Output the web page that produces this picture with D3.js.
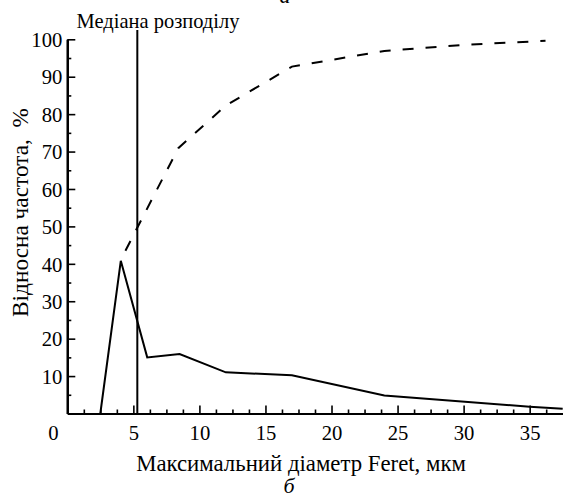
<!DOCTYPE html>
<html><head><meta charset="utf-8">
<script src="https://cdn.jsdelivr.net/npm/d3@7"></script>
</head><body style="margin:0">
<script>
// data
const freqX = [2.5, 4.05, 6.05, 8.5, 12, 17, 24, 35, 37.5];
const freqY = [0, 40.8, 15.0, 15.9, 11.0, 10.2, 4.8, 1.8, 1.3];
const cumX = [4.4, 8.4, 12, 17, 24, 30, 36.2];
const cumY = [43.5, 70.9, 82.3, 92.7, 96.9, 98.5, 99.6];
const median = 5.3;
const xTicks = [5, 10, 15, 20, 25, 30, 35];
const yTicks = [10, 20, 30, 40, 50, 60, 70, 80, 90, 100];
const xMinor = [1.25, 2.5, 3.75, 6.25, 7.5, 8.75, 11.25, 12.5, 13.75, 16.25, 17.5, 18.75, 21.25, 22.5, 23.75, 26.25, 27.5, 28.75, 31.25, 32.5, 33.75, 36.25];
const yMinor = [5, 15, 25, 35, 45, 55, 65, 75, 85, 95];

const FONT = "'Liberation Serif'";
const W = 563, H = 499;
const svg = d3.select("body").append("svg").attr("width", W).attr("height", H).style("display", "block");
const x = d3.scaleLinear().domain([0, 37.5]).range([67.3, 562.7]);
const y = d3.scaleLinear().domain([0, 100]).range([413.5, 39.3]);

function fit(sel, target) {
  const len = sel.node().getComputedTextLength();
  const fs = parseFloat(sel.style("font-size"));
  if (len > 0) sel.style("font-size", (fs * target / len) + "px");
  return sel;
}

const gx = svg.append("g").attr("transform", `translate(0,${y(0)})`)
  .call(d3.axisBottom(x).tickValues(xTicks).tickSizeInner(-8).tickSizeOuter(0).tickPadding(12));
svg.append("g").attr("transform", `translate(0,${y(0)})`)
  .call(d3.axisBottom(x).tickValues(xMinor).tickSizeInner(-4).tickSizeOuter(0).tickFormat(""));
const gy = svg.append("g").attr("transform", `translate(${x(0)},0)`)
  .call(d3.axisLeft(y).tickValues(yTicks).tickSizeInner(-8).tickSizeOuter(0).tickPadding(5));
svg.append("g").attr("transform", `translate(${x(0)},0)`)
  .call(d3.axisLeft(y).tickValues(yMinor).tickSizeInner(-4).tickSizeOuter(0).tickFormat(""));
svg.selectAll(".domain").attr("stroke", "#000").attr("stroke-width", 2.2);
svg.selectAll(".tick line").attr("stroke", "#000").attr("stroke-width", 1.6);
svg.selectAll("g").attr("font-family", "Liberation Serif").attr("font-size", null);
svg.selectAll(".tick text").attr("font-family", "Liberation Serif")
  .style("font-family", FONT).style("font-size", "21px").attr("fill", "#000");
gy.selectAll(".tick text").attr("dy", "0.35em");
const t100 = gy.selectAll(".tick text").filter(d => d === 100);
const base = parseFloat(fit(t100, 31).style("font-size"));
svg.selectAll(".tick text").style("font-size", base + "px");

function label(xp, yp, txt, size) {
  return svg.append("text").attr("x", xp).attr("y", yp).attr("text-anchor", "middle")
    .attr("font-family", "Liberation Serif")
    .style("font-family", FONT).style("font-size", size + "px").attr("fill", "#000").text(txt);
}

label(x(0) - 14, 440, "0", base);

const line = d3.line().x(d => x(d[0])).y(d => y(d[1]));
svg.append("path").datum(freqX.map((v, i) => [v, freqY[i]]))
  .attr("d", line).attr("fill", "none").attr("stroke", "#000").attr("stroke-width", 2);
svg.append("path").datum(cumX.map((v, i) => [v, cumY[i]]))
  .attr("d", line).attr("fill", "none").attr("stroke", "#000").attr("stroke-width", 2)
  .attr("stroke-dasharray", "11,12");

svg.append("line").attr("x1", x(median)).attr("x2", x(median)).attr("y1", y(0)).attr("y2", 30)
  .attr("stroke", "#000").attr("stroke-width", 2);
fit(label(158, 28, "Медіана розподілу", 18), 163);
fit(label(301, 471, "Максимальний діаметр Feret, мкм", 20), 330);
const yl = svg.append("text").attr("transform", `translate(28,212.5) rotate(-90)`).attr("text-anchor", "middle")
  .attr("font-family", "Liberation Serif")
  .style("font-family", FONT).style("font-size", "21px").style("white-space", "pre")
  .attr("fill", "#000").text("Відносна частота,  %");
fit(yl, 209);

label(289, 493, "б", 22).style("font-style", "italic");
label(285, 3, "а", 22).style("font-style", "italic");
</script>
</body></html>
